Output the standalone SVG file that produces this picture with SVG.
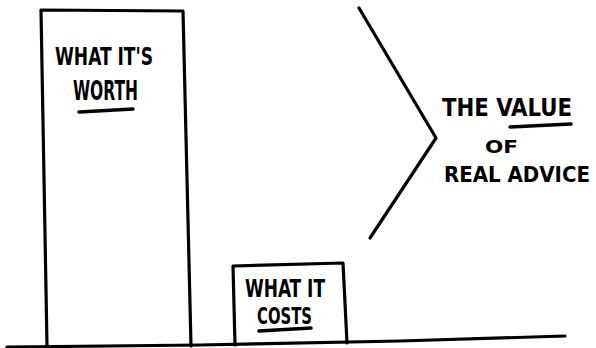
<svg xmlns="http://www.w3.org/2000/svg" width="596" height="348" viewBox="0 0 596 348">
<style>
.ln{fill:none;stroke:#000;stroke-width:3.2;stroke-linecap:round;stroke-linejoin:round}
.ul{fill:none;stroke:#000;stroke-width:3.5;stroke-linecap:round}
.t{font-family:"DejaVu Sans Condensed","DejaVu Sans",sans-serif;font-weight:bold;fill:#000}
</style>
<rect width="596" height="348" fill="#fff"/>
<g id="connectors">
<path class="ln" d="M7 347 L200 345 L400 341 L565 336"/>
<path class="ln" d="M359 8 L436 138 L370 238"/>
</g>
<g id="worth">
<path class="ln" d="M47 346 L41 10 L183 11 L191 346"/>
<text class="t" x="55" y="65" font-size="24" textLength="98" lengthAdjust="spacingAndGlyphs">WHAT IT'S</text>
<text class="t" x="73" y="100" font-size="27" textLength="65" lengthAdjust="spacingAndGlyphs">WORTH</text>
<path class="ul" d="M79 112 L133 109"/>
</g>
<g id="costs">
<path class="ln" d="M235 345 L233 266 L343 263 L347 343"/>
<text class="t" x="245" y="297" font-size="25" textLength="80" lengthAdjust="spacingAndGlyphs">WHAT IT</text>
<text class="t" x="257" y="324" font-size="23" textLength="55" lengthAdjust="spacingAndGlyphs">COSTS</text>
<path class="ul" d="M259 331 L311 328"/>
</g>
<g id="value">
<text class="t" x="442" y="116" font-size="24" textLength="130" lengthAdjust="spacingAndGlyphs">THE VALUE</text>
<path class="ul" d="M510 127 L571 124"/>
<text class="t" x="485" y="153" font-size="18" textLength="33" lengthAdjust="spacingAndGlyphs">OF</text>
<text class="t" x="444" y="182" font-size="22" textLength="146" lengthAdjust="spacingAndGlyphs">REAL ADVICE</text>
</g>
</svg>
